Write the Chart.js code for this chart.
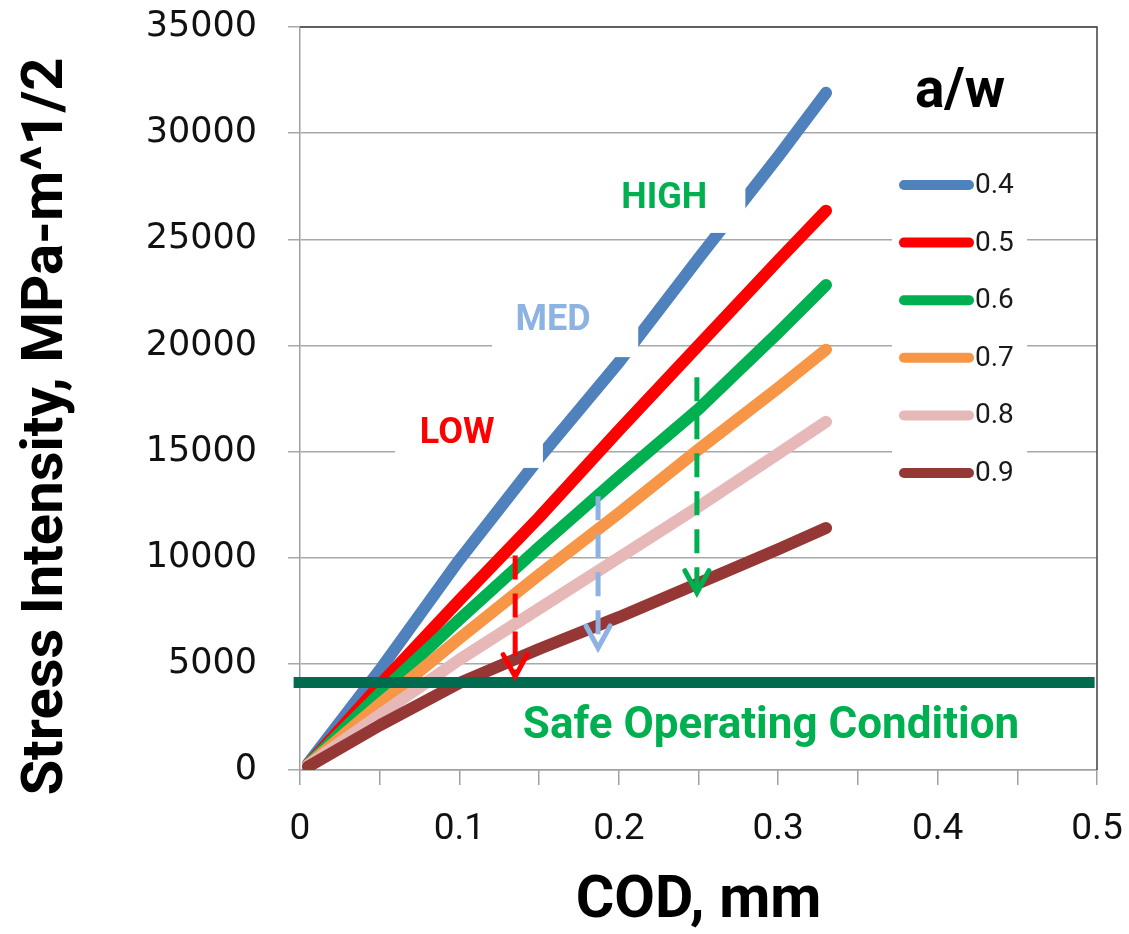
<!DOCTYPE html>
<html><head><meta charset="utf-8">
<script src="https://cdn.jsdelivr.net/npm/chart.js@4.4.0/dist/chart.umd.min.js"></script>
<style>html,body{margin:0;padding:0;background:#fff;}canvas{display:block;}</style>
</head><body>
<canvas id="c" width="1129" height="934"></canvas>
<script>
// ---- data ----
const codMM = [0.005, 0.05, 0.1, 0.15, 0.2, 0.25, 0.3, 0.33];
const k04 = [300, 4700, 9900, 14700, 19200, 24100, 28900, 31900];
const k05 = [250, 4000, 8000, 11900, 16000, 20000, 24000, 26350];
const k06 = [250, 3600, 7100, 10500, 13800, 17000, 20600, 22850];
const k07 = [230, 3100, 6200, 9200, 12100, 15100, 18000, 19800];
const k08 = [220, 2600, 5200, 7600, 10000, 12400, 14900, 16400];
const k09 = [150, 2100, 4100, 5700, 7200, 8800, 10400, 11400];
const seriesLabels = ['0.4', '0.5', '0.6', '0.7', '0.8', '0.9'];
const seriesValues = [k04, k05, k06, k07, k08, k09];
const seriesColors = ['#4f81bd', '#ff0000', '#00b050', '#f79646', '#e6b9b8', '#953735'];
const legendTitle = 'a/w';
const xTickLabels = ['0', '0.1', '0.2', '0.3', '0.4', '0.5'];
const yTickLabels = ['0', '5000', '10000', '15000', '20000', '25000', '30000', '35000'];
const xTitle = 'COD, mm';
const yTitle = 'Stress Intensity, MPa-m^1/2';
const safeLevel = 4120;
const safeSpan = [-0.004, 0.4985];
const safeText = 'Safe Operating Condition';
const safeTextAt = [0.2955, 1510];
const arrowCOD = [0.135, 0.187, 0.249];
const arrowFrom = [10100, 12900, 18500];
const arrowTo = [4400, 5750, 8350];
const arrowColors = ['#ff0000', '#8db3e2', '#00b050'];
const regionLabels = ['LOW', 'MED', 'HIGH'];
const regionCOD = [0.0986, 0.1588, 0.2285];
const regionK = [15400, 20730, 26470];
const regionColors = ['#ff0000', '#8db3e2', '#00b050'];
// white label boxes [cod0, cod1, k0, k1]
const regionBoxes = [[0.0596, 0.1524, 14230, 17300], [0.1205, 0.2122, 19450, 22900], [0.188, 0.2794, 25300, 29000]];

// ---- datasets ----
const datasets = [];
seriesValues.forEach((vals, i) => {
  datasets.push({
    label: seriesLabels[i],
    data: codMM.map((x, j) => ({x: x, y: vals[j]})),
    borderColor: seriesColors[i],
    backgroundColor: seriesColors[i],
    borderWidth: 12,
    borderCapStyle: 'round',
    borderJoinStyle: 'round',
    pointRadius: 0,
    tension: 0,
    order: 20 - i
  });
});
datasets.push({
  label: 'safe',
  data: safeSpan.map(x => ({x: x, y: safeLevel})),
  borderColor: '#006b4f',
  borderWidth: 11,
  borderCapStyle: 'butt',
  pointRadius: 0,
  clip: false,
  order: 3
});
arrowCOD.forEach((x, i) => {
  datasets.push({
    label: 'arrow' + i,
    data: [{x: x, y: arrowFrom[i]}, {x: x, y: arrowTo[i]}],
    borderColor: arrowColors[i],
    borderWidth: 5,
    borderDash: [24, 14],
    borderCapStyle: 'butt',
    pointRadius: 0,
    order: 1
  });
});

const overlay = {
  id: 'overlay',
  afterDatasetsDraw(chart) {
    const ctx = chart.ctx;
    const xs = chart.scales.x, ys = chart.scales.y;
    const a = chart.chartArea;
    ctx.save();
    // white label boxes
    ctx.fillStyle = '#ffffff';
    regionBoxes.forEach(b => {
      const x0 = xs.getPixelForValue(b[0]), x1 = xs.getPixelForValue(b[1]);
      const y0 = ys.getPixelForValue(b[3]), y1 = ys.getPixelForValue(b[2]);
      ctx.fillRect(x0, y0, x1 - x0, y1 - y0);
    });
    // region labels
    ctx.textAlign = 'center';
    ctx.textBaseline = 'alphabetic';
    ctx.font = 'bold 36px Roboto';
    regionLabels.forEach((t, i) => {
      ctx.fillStyle = regionColors[i];
      ctx.fillText(t, xs.getPixelForValue(regionCOD[i]), ys.getPixelForValue(regionK[i]));
    });
    // safe text
    ctx.font = 'bold 44px Roboto';
    ctx.fillStyle = '#00b050';
    ctx.fillText(safeText, xs.getPixelForValue(safeTextAt[0]), ys.getPixelForValue(safeTextAt[1]));
    // arrowheads
    ctx.lineWidth = 5;
    ctx.lineCap = 'round';
    ctx.lineJoin = 'miter';
    arrowCOD.forEach((x, i) => {
      const px = xs.getPixelForValue(x), py = ys.getPixelForValue(arrowTo[i]);
      ctx.strokeStyle = arrowColors[i];
      ctx.beginPath();
      ctx.moveTo(px - 12, py - 22);
      ctx.lineTo(px, py);
      ctx.lineTo(px + 12, py - 22);
      ctx.stroke();
    });
    // borders top and right
    ctx.strokeStyle = '#404040';
    ctx.lineWidth = 1.5;
    ctx.lineCap = 'butt';
    ctx.beginPath();
    ctx.moveTo(a.left, a.top);
    ctx.lineTo(a.right, a.top);
    ctx.lineTo(a.right, a.bottom);
    ctx.stroke();
    // legend
    const lgLeft = a.right - 205, lgRight = a.right - 70;
    const top0 = a.top + 158, step = 57.6;
    ctx.fillStyle = '#ffffff';
    ctx.fillRect(lgLeft, a.top + 125, lgRight - lgLeft, step * 6 + 5);
    ctx.font = 'bold 55px Roboto';
    ctx.fillStyle = '#000';
    ctx.textAlign = 'center';
    ctx.fillText(legendTitle, a.right - 137, a.top + 80);
    ctx.font = '28px Roboto';
    ctx.textAlign = 'left';
    ctx.textBaseline = 'middle';
    ctx.lineWidth = 10;
    ctx.lineCap = 'round';
    seriesLabels.forEach((t, i) => {
      const yy = top0 + i * step;
      ctx.strokeStyle = seriesColors[i];
      ctx.beginPath();
      ctx.moveTo(a.right - 193, yy);
      ctx.lineTo(a.right - 128, yy);
      ctx.stroke();
      ctx.fillStyle = '#1a1a1a';
      ctx.fillText(t, a.right - 122, yy + 1);
    });
    ctx.restore();
  },
  afterDraw(chart) {
    const ctx = chart.ctx;
    const a = chart.chartArea;
    ctx.save();
    ctx.translate(a.left - 238, (a.top + a.bottom) / 2 + 28);
    ctx.rotate(-Math.PI / 2);
    ctx.font = 'bold 58px Roboto';
    ctx.fillStyle = '#000';
    ctx.textAlign = 'center';
    ctx.textBaseline = 'alphabetic';
    ctx.fillText(yTitle, 0, 0);
    ctx.restore();
  }
};

function noScalePadding(s) {
  s.paddingTop = 0; s.paddingBottom = 0; s.paddingLeft = 0; s.paddingRight = 0;
}

new Chart(document.getElementById('c'), {
  type: 'line',
  data: {datasets: datasets},
  options: {
    responsive: false,
    devicePixelRatio: 1,
    animation: false,
    layout: {padding: {top: 27, right: 32, bottom: 0, left: 0}},
    plugins: {legend: {display: false}, tooltip: {enabled: false}},
    scales: {
      x: {
        type: 'linear', min: 0, max: 0.5,
        afterFit: s => { s.height = 164; noScalePadding(s); },
        ticks: {
          stepSize: 0.05, autoSkip: false, maxRotation: 0, padding: 23,
          color: '#111', font: {family: 'Roboto', size: 37},
          callback: (v, i) => (i % 2 === 0 ? xTickLabels[i / 2] : '')
        },
        grid: {drawOnChartArea: false, drawTicks: true, tickLength: 15, color: '#a0a0a0', lineWidth: 1.5},
        border: {display: true, color: '#a0a0a0', width: 1.5},
        title: {display: true, text: xTitle, color: '#000',
          font: {family: 'Roboto', weight: 'bold', size: 59, lineHeight: 1}, padding: {top: 0, bottom: 2}}
      },
      y: {
        type: 'linear', min: 0, max: 35000,
        afterFit: s => { s.width = 300; noScalePadding(s); },
        ticks: {
          stepSize: 5000, padding: 31, color: '#111',
          font: {family: 'DejaVu Sans', size: 35},
          callback: (v, i) => yTickLabels[i]
        },
        grid: {color: '#a8a8a8', lineWidth: 1.5, tickLength: 12},
        border: {display: true, color: '#a0a0a0', width: 1.5},
        title: {display: false, text: yTitle}
      }
    }
  },
  plugins: [overlay]
});
</script>
</body></html>
